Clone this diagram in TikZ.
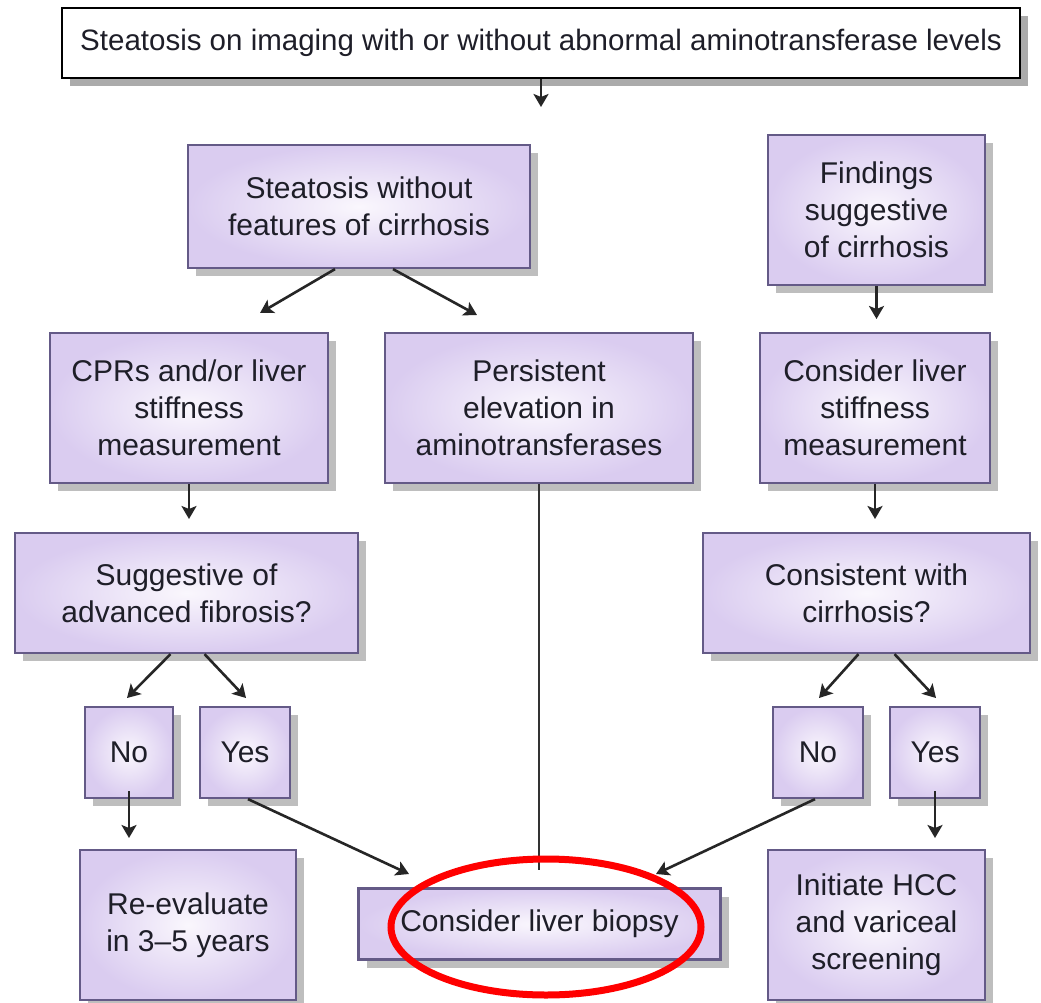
\documentclass[tikz,border=0pt]{standalone}
\usepackage{fontspec}
\setmainfont{Liberation Sans}
\usetikzlibrary{arrows.meta,shadows,calc}
\definecolor{boxedge}{RGB}{100,90,135}
\definecolor{lavout}{RGB}{218,204,240}
\definecolor{lavin}{RGB}{250,247,253}
\definecolor{shadowgray}{RGB}{190,190,190}
\definecolor{txt}{RGB}{30,30,40}
\tikzset{
  pbox/.style={draw=boxedge, line width=2.2pt, inner color=lavin, outer color=lavout,
    align=center, text=txt, font=\fontsize{30}{37}\selectfont, inner sep=0pt,
    drop shadow={shadow xshift=8pt, shadow yshift=-8pt, fill=shadowgray, opacity=1}},
  topbox/.style={draw=black, line width=1.6pt, fill=white, align=center, text=txt,
    font=\fontsize{29.5}{36}\selectfont, inner sep=0pt,
    drop shadow={shadow xshift=8pt, shadow yshift=-8pt, fill=shadowgray!90!black, opacity=1}},
  arr/.style={draw=black!85, line width=2.6pt, -{Stealth[length=13pt,width=15pt,inset=3pt]}},
  plain/.style={draw=black!80, line width=2.4pt},
}
\begin{document}
\begin{tikzpicture}[x=1pt,y=-1pt]
\useasboundingbox (0,0) rectangle (1041,1003);
\fill[white] (0,0) rectangle (1041,1003);

\node[topbox, minimum width=958, minimum height=70] (top) at (541,43)
  {Steatosis on imaging with or without abnormal aminotransferase levels};

\node[pbox, minimum width=342, minimum height=123] (s) at (359,206.5)
  {Steatosis without\\features of cirrhosis};
\node[pbox, minimum width=217, minimum height=150] (f) at (876.5,210)
  {Findings\\suggestive\\of cirrhosis};
\node[pbox, minimum width=278, minimum height=150] (c) at (189,408)
  {CPRs and/or liver\\stiffness\\measurement};
\node[pbox, minimum width=308, minimum height=150] (p) at (539,408)
  {Persistent\\elevation in\\aminotransferases};
\node[pbox, minimum width=230, minimum height=150] (k) at (875,408)
  {Consider liver\\stiffness\\measurement};
\node[pbox, minimum width=343, minimum height=120] (a) at (186.5,593)
  {Suggestive of\\advanced fibrosis?};
\node[pbox, minimum width=327, minimum height=120] (cc) at (866.5,593)
  {Consistent with\\cirrhosis?};
\node[pbox, minimum width=88, minimum height=91] (n1) at (129,752.5) {No};
\node[pbox, minimum width=90, minimum height=91] (y1) at (245,752.5) {Yes};
\node[pbox, minimum width=90, minimum height=91] (n2) at (818,752.5) {No};
\node[pbox, minimum width=90, minimum height=91] (y2) at (935,752.5) {Yes};
\node[pbox, minimum width=216, minimum height=150] (r) at (188,925)
  {Re-evaluate\\in 3--5 years};
\node[pbox, minimum width=362, minimum height=71] (b) at (539.5,924)
  {Consider liver biopsy};
\node[pbox, minimum width=217, minimum height=150] (i) at (876.5,925)
  {Initiate HCC\\and variceal\\screening};

% free ends
\coordinate (topend) at (541,107);
\coordinate (sc) at (260,313);
\coordinate (sp) at (477,315);
\coordinate (fk) at (876.5,319);
\coordinate (ca) at (189,519);
\coordinate (kcc) at (875,519);
\coordinate (an) at (127,698);
\coordinate (ay) at (246,698);
\coordinate (ccn) at (819,698);
\coordinate (ccy) at (936,698);
\coordinate (nr) at (129,838);
\coordinate (yb) at (409,874);
\coordinate (pb) at (539,870);
\coordinate (nb) at (656,874);
\coordinate (yi) at (935,838);

\draw[arr] (top.south) -- (topend);
\draw[arr] ($(s.south)+(-24,0)$) -- (sc);
\draw[arr] ($(s.south)+(34,0)$) -- (sp);
\draw[arr] (f.south) -- (fk);
\draw[arr] (c.south) -- (ca);
\draw[arr] (k.south) -- (kcc);
\draw[arr] ($(a.south)+(-16,0)$) -- (an);
\draw[arr] ($(a.south)+(18,0)$) -- (ay);
\draw[arr] ($(cc.south)+(-8,0)$) -- (ccn);
\draw[arr] ($(cc.south)+(28,0)$) -- (ccy);
\draw[arr] ($(n1.south)+(0,-8)$) -- (nr);
\draw[arr] ($(y1.south)+(3,0)$) -- (yb);
\draw[plain] (p.south) -- (pb);
\draw[arr] ($(n2.south)+(-3,0)$) -- (nb);
\draw[arr] ($(y2.south)+(0,-8)$) -- (yi);

\draw[red, line width=7pt] (546,927) ellipse [x radius=155, y radius=68];
\end{tikzpicture}
\end{document}
